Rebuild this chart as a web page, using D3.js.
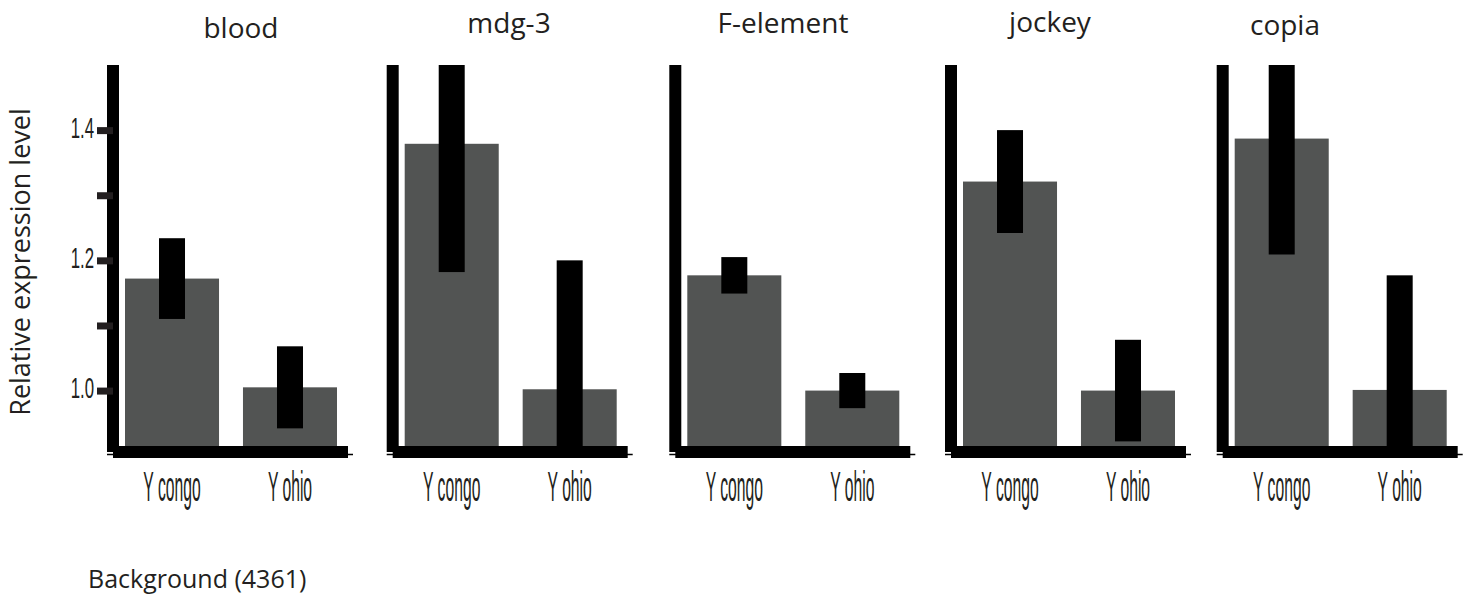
<!DOCTYPE html>
<html>
<head>
<meta charset="utf-8">
<script src="https://cdn.jsdelivr.net/npm/d3@7"></script>
<style>
  html, body { margin: 0; padding: 0; background: #fff; }
  svg { display: block; }
</style>
</head>
<body>
<script>
// Relative expression of transposable elements, Y congo vs Y ohio (background 4361)
const targets = ["blood", "mdg-3", "F-element", "jockey", "copia"];
const strains = ["Y congo", "Y ohio"];
const congoMean = [1.172, 1.379, 1.177, 1.321, 1.387];
const congoErr  = [0.062, 0.197, 0.028, 0.079, 0.178];
const ohioMean  = [1.005, 1.002, 1.000, 1.000, 1.001];
const ohioErr   = [0.063, 0.198, 0.027, 0.078, 0.176];
const yTicks = [1.0, 1.1, 1.2, 1.3, 1.4];
const yTickLabels = ["1.0", "", "1.2", "", "1.4"];

// layout of the five small panels
const panelLeft = [107, 386.7, 669.3, 945, 1216.7];
const titleX = [241, 509, 783, 1050, 1285];
const titleY = [38, 33, 33, 32, 35];

const W = 1476, H = 598;
const svg = d3.select("body").append("svg").attr("width", W).attr("height", H);

const textColor = "#231f20";
const barColor = "#525453";
const condensed = "'Liberation Sans', Arial, sans-serif";
const sans = "'Open Sans', 'Noto Sans', sans-serif";

const y = d3.scaleLinear().domain([0.9, 1.5]).range([455.7, 65]);
const x = d3.scaleBand().domain(strains).range([18, 230]).paddingInner(0.203).paddingOuter(0);
const axisY = 452;

targets.forEach((name, i) => {
  const L = panelLeft[i];
  const g = svg.append("g").attr("transform", `translate(${L},0)`);

  const clipId = "clip" + i;
  g.append("clipPath").attr("id", clipId)
    .append("rect").attr("x", 0).attr("y", y(1.5)).attr("width", 250).attr("height", y(0.9) - y(1.5));

  const rows = [
    { strain: strains[0], mean: congoMean[i], err: congoErr[i] },
    { strain: strains[1], mean: ohioMean[i], err: ohioErr[i] }
  ];

  const plot = g.append("g").attr("clip-path", `url(#${clipId})`);
  plot.selectAll("rect.bar").data(rows).join("rect")
    .attr("class", "bar")
    .attr("x", d => x(d.strain))
    .attr("width", x.bandwidth())
    .attr("y", d => y(d.mean))
    .attr("height", d => y(0.9) - y(d.mean))
    .attr("fill", barColor);

  const ew = 26;
  plot.selectAll("rect.err").data(rows).join("rect")
    .attr("class", "err")
    .attr("x", d => x(d.strain) + x.bandwidth() / 2 - ew / 2)
    .attr("width", ew)
    .attr("y", d => y(d.mean + d.err))
    .attr("height", d => y(d.mean - d.err) - y(d.mean + d.err))
    .attr("fill", "#000");

  // x axis: thin baseline plus heavy bar
  g.append("line").attr("x1", 0).attr("x2", 246).attr("y1", axisY + 2.5).attr("y2", axisY + 2.5)
    .attr("stroke", "#000").attr("stroke-width", 1.5);
  g.append("line").attr("x1", 6).attr("x2", 241).attr("y1", axisY).attr("y2", axisY)
    .attr("stroke", "#000").attr("stroke-width", 12);

  const xAxis = g.append("g").attr("transform", `translate(0,${axisY})`)
    .call(d3.axisBottom(x).tickSize(0).tickPadding(0));
  xAxis.select(".domain").remove();
  xAxis.selectAll("text")
    .attr("y", 0).attr("dy", 0)
    .attr("transform", "translate(0,49) scale(0.365,1)")
    .attr("font-family", condensed)
    .attr("font-size", 43)
    .attr("fill", textColor);

  // y axis: heavy vertical line, ticks only on the first panel
  const yAxis = d3.axisLeft(y).tickSizeOuter(0).tickValues(i === 0 ? yTicks : [])
    .tickSize(16).tickFormat((d, k) => yTickLabels[k]);
  const ya = g.append("g").attr("transform", "translate(6,0)").call(yAxis);
  ya.select(".domain").attr("stroke", "#000").attr("stroke-width", 12)
    .attr("d", `M0,${y(1.5)}V${axisY}`);
  ya.selectAll(".tick line").attr("stroke", textColor).attr("stroke-width", 7);
  ya.selectAll(".tick text")
    .attr("x", 0).attr("dy", 0).attr("y", 7)
    .attr("transform", "translate(-19,0) scale(0.56,1)")
    .attr("font-family", condensed)
    .attr("font-size", 30)
    .attr("fill", textColor);

  svg.append("text")
    .attr("x", titleX[i]).attr("y", titleY[i])
    .attr("text-anchor", "middle")
    .attr("font-family", sans).attr("font-size", 28)
    .attr("fill", textColor)
    .text(name);
});

svg.append("text")
  .attr("transform", "translate(30,262) rotate(-90)")
  .attr("text-anchor", "middle")
  .attr("font-family", sans).attr("font-size", 27)
  .attr("fill", textColor)
  .text("Relative expression level");

svg.append("text")
  .attr("x", 88).attr("y", 588)
  .attr("font-family", sans).attr("font-size", 25)
  .attr("fill", textColor)
  .text("Background (4361)");
</script>
</body>
</html>
